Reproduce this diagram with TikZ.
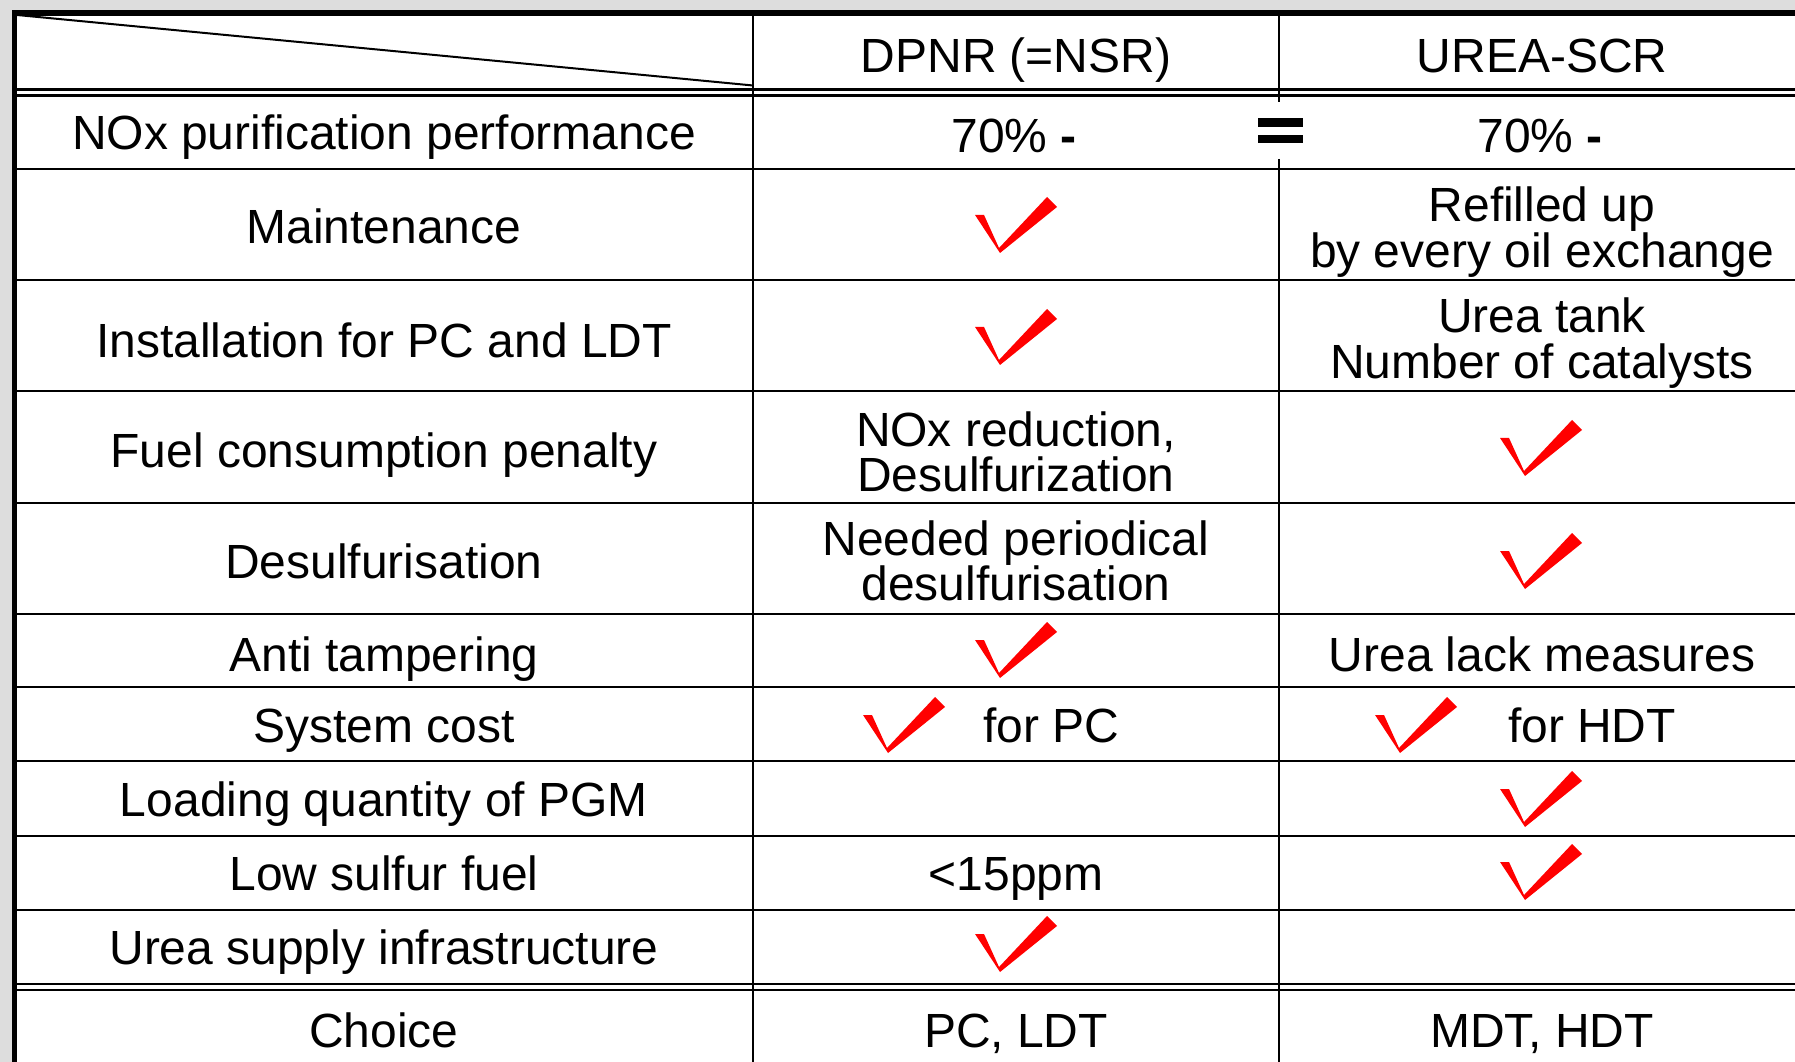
\documentclass[tikz,border=0pt]{standalone}
\usepackage{fontspec}
\setmainfont{Liberation Sans}
\definecolor{pageGray}{RGB}{221,221,221}
\definecolor{tickRed}{RGB}{255,0,0}
\newcommand{\cellFont}{\fontsize{13.65pt}{13pt}\selectfont}
\tikzstyle{sheet} = [x = 0.1mm, y = -0.1mm]
\tikzstyle{frameLine} = [line width = 0.56mm]
\tikzstyle{ruleLine} = [line width = 0.2mm]
\tikzstyle{doubleLine} = [line width = 0.27mm]
\tikzstyle{cellText} = [font=\cellFont, inner sep = 0pt, text height = 9.8pt, text depth = 0pt]
\tikzstyle{cellTextTwo} = [font=\cellFont, inner sep = 0pt, align = center]
\tikzstyle{tickStyle} = [fill = tickRed]
\newcommand{\ruleAt}[1]{\draw [ruleLine] (17, #1) -- (1800, #1);}
\newcommand{\doubleRuleAt}[1]{
  \draw [doubleLine] (17, #1 - 3) -- (1800, #1 - 3);
  \draw [doubleLine] (17, #1 + 3) -- (1800, #1 + 3);
}
\newcommand{\tick}[2]{\fill [tickStyle] (#1 - 41, #2 - 10) -- (#1 - 32, #2 - 10) -- (#1 - 17, #2 + 23) -- (#1 + 31, #2 - 28) -- (#1 + 41, #2 - 18) -- (#1 - 16, #2 + 28) -- cycle;}

\begin{document}
\begin{tikzpicture}[sheet]
  \useasboundingbox (0, 0) rectangle (1795, 1062);
  \clip (0, 0) rectangle (1795, 1062);
  \fill [pageGray] (0, 0) rectangle (1795, 1062);
  \fill [white] (12, 10) rectangle (1800, 1070);

  \doubleRuleAt{92.5}
  \foreach \rowLine in {169, 280.5, 391.5, 502.5, 613.5, 687, 761, 836, 910} {
    \ruleAt{\rowLine}
  }
  \doubleRuleAt{987}
  \draw [ruleLine] (753, 16) -- (753, 1070);
  \draw [ruleLine] (1279, 16) -- (1279, 102);
  \draw [ruleLine] (1279, 159) -- (1279, 1070);
  \draw [ruleLine] (17, 15) -- (753, 85.5);
  \draw [frameLine] (14.5, 1070) -- (14.5, 13) -- (1800, 13);

  \fill (1258, 118) rectangle (1303, 127);
  \fill (1258, 135) rectangle (1303, 143);

  \node [cellText] (dpnrHead) at (1016, 55) {DPNR (=NSR)};
  \node [cellText] (scrHead) at (1542, 55) {UREA-SCR};

  \node [cellText] (noxLabel) at (384, 132) {NOx purification performance};
  \node [cellText] (noxDpnr) at (1014, 135) {70\% \textbf{-}};
  \node [cellText] (noxScr) at (1540, 135) {70\% \textbf{-}};

  \node [cellText] (maintLabel) at (384, 226) {Maintenance};
  \tick{1016}{225}
  \node [cellTextTwo] (maintScr) at (1542, 232) {Refilled up\\by every oil exchange};

  \node [cellText] (installLabel) at (384, 340) {Installation for PC and LDT};
  \tick{1016}{337}
  \node [cellTextTwo] (installScr) at (1542, 343) {Urea tank\\Number of catalysts};

  \node [cellText] (fuelLabel) at (384, 450) {Fuel consumption penalty};
  \node [cellTextTwo] (fuelDpnr) at (1016, 452) {NOx reduction,\\Desulfurization};
  \tick{1541}{448}

  \node [cellText] (desulfLabel) at (384, 561) {Desulfurisation};
  \node [cellTextTwo] (desulfDpnr) at (1016, 561) {Needed periodical\\desulfurisation};
  \tick{1541}{561}

  \node [cellText] (tamperLabel) at (384, 654) {Anti tampering};
  \tick{1016}{650}
  \node [cellText] (tamperScr) at (1542, 654) {Urea lack measures};

  \node [cellText] (costLabel) at (384, 725) {System cost};
  \tick{904}{725}
  \node [cellText] (costDpnr) at (1051, 725) {for PC};
  \tick{1416}{725}
  \node [cellText] (costScr) at (1592, 725) {for HDT};

  \node [cellText] (pgmLabel) at (384, 799) {Loading quantity of PGM};
  \tick{1541}{799}

  \node [cellText] (sulfurLabel) at (384, 873) {Low sulfur fuel};
  \node [cellText] (sulfurDpnr) at (1016, 873) {<15ppm};
  \tick{1541}{872}

  \node [cellText] (supplyLabel) at (384, 947) {Urea supply infrastructure};
  \tick{1016}{944}

  \node [cellText] (choiceLabel) at (384, 1030) {Choice};
  \node [cellText] (choiceDpnr) at (1016, 1030) {PC, LDT};
  \node [cellText] (choiceScr) at (1542, 1030) {MDT, HDT};
\end{tikzpicture}
\end{document}
